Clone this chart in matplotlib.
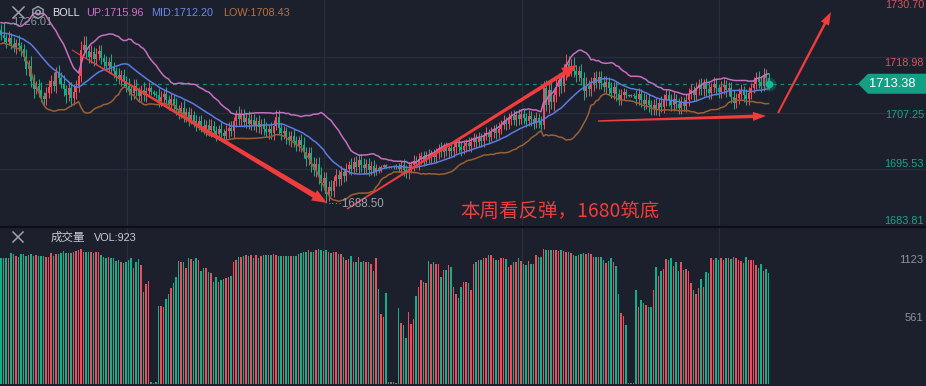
import matplotlib

matplotlib.use("Agg")  # no display
import matplotlib.pyplot as plt
from matplotlib.patches import Polygon
from matplotlib.lines import Line2D
import numpy as np
import pandas as pd

plt.rcParams["font.family"] = ["Liberation Sans", "Noto Sans CJK SC"]

# closes before the visible window, only used to warm up the 20-bar BOLL
warmup_closes = [1722.0, 1723.5, 1724.8, 1725.5, 1724.2, 1725.0, 1726.0, 1724.6, 1723.0, 1724.4,
                 1722.8, 1721.9, 1723.2, 1724.5, 1725.2, 1723.8, 1722.6, 1723.9, 1724.7]

closes = [
    1723.6, 1722.9, 1722.1, 1723.0, 1721.8, 1721.0, 1722.0, 1721.2, 1720.6, 1719.0,
    1716.5, 1717.2, 1714.0, 1712.2, 1713.0, 1712.0, 1710.8, 1710.2, 1711.5, 1712.8,
    1714.0, 1713.0, 1715.8, 1714.6, 1713.4, 1712.2, 1711.0, 1712.4, 1710.3, 1711.6,
    1713.0, 1715.0, 1720.5, 1721.6, 1720.2, 1719.0, 1720.0, 1718.6, 1719.6, 1720.2,
    1718.8, 1717.9, 1717.0, 1718.0, 1716.8, 1716.0, 1715.2, 1714.4, 1715.2, 1713.8,
    1713.0, 1712.2, 1711.4, 1713.0, 1711.8, 1710.9, 1712.0, 1711.0, 1711.8, 1712.4,
    1711.6, 1711.3, 1711.0, 1709.8, 1710.6, 1711.2, 1710.0, 1709.2, 1710.1, 1708.9,
    1708.0, 1707.3, 1708.2, 1706.6, 1707.4, 1706.0, 1706.8, 1705.6, 1704.8, 1705.6,
    1704.5, 1703.9, 1704.8, 1703.6, 1704.5, 1703.4, 1702.8, 1703.9, 1703.0, 1702.4,
    1703.4, 1704.2, 1703.5, 1705.5, 1707.0, 1706.0, 1706.8, 1705.4, 1706.2, 1705.0,
    1705.8, 1704.6, 1705.5, 1704.3, 1705.0, 1704.0, 1703.2, 1704.0, 1703.0, 1704.6,
    1706.5, 1704.2, 1703.0, 1703.4, 1702.2, 1701.5, 1702.4, 1701.3, 1700.6, 1701.5,
    1700.5, 1699.0, 1697.6, 1698.8, 1696.5, 1695.3, 1696.6, 1694.2, 1692.5, 1693.6,
    1690.2, 1691.8, 1691.0, 1693.0, 1694.2, 1693.4, 1694.8, 1694.0, 1695.6, 1696.4,
    1695.6, 1697.0, 1696.0, 1697.5, 1696.4, 1695.7, 1696.6, 1695.4, 1696.2, 1695.0,
    1695.8, 1695.2, 1696.0, 1696.3, 1696.0, 1695.9, 1696.0, 1695.9, 1696.0, 1695.6,
    1696.4, 1695.4, 1694.8, 1695.6, 1696.4, 1697.2, 1696.6, 1697.6, 1698.2, 1697.5,
    1698.4, 1697.8, 1698.6, 1698.0, 1699.0, 1699.8, 1699.0, 1699.9, 1699.2, 1700.0,
    1699.3, 1700.2, 1700.9, 1700.1, 1699.5, 1700.4, 1701.0, 1700.3, 1701.2, 1701.9,
    1701.2, 1702.0, 1701.4, 1702.4, 1703.0, 1702.3, 1703.2, 1703.9, 1703.1, 1704.0,
    1704.8, 1705.6, 1704.9, 1705.9, 1706.6, 1705.8, 1706.8, 1706.0, 1707.0, 1706.3,
    1705.6, 1706.6, 1705.9, 1705.2, 1706.2, 1705.5, 1704.8, 1712.5, 1709.0, 1712.0,
    1709.5, 1711.0, 1712.6, 1714.2, 1713.0, 1715.8, 1717.6, 1716.4, 1717.2, 1716.0,
    1715.2, 1716.0, 1714.6, 1711.8, 1713.0, 1712.2, 1713.4, 1714.6, 1713.6, 1714.8,
    1713.6, 1712.8, 1713.8, 1712.4, 1711.5, 1712.6, 1711.2, 1710.2, 1711.0, 1711.6,
    1711.0, 1710.9, 1711.0, 1710.9, 1710.2, 1711.2, 1710.0, 1709.2, 1710.0, 1708.9,
    1708.2, 1709.0, 1708.0, 1709.4, 1708.6, 1710.0, 1711.0, 1710.0, 1709.0, 1710.2,
    1709.2, 1708.4, 1709.6, 1708.8, 1710.0, 1711.2, 1712.0, 1711.0, 1712.4, 1713.2,
    1712.2, 1713.3, 1712.3, 1711.4, 1712.6, 1713.4, 1712.4, 1711.6, 1712.6, 1713.2,
    1712.0, 1712.5, 1710.6, 1709.4, 1710.4, 1711.2, 1712.0, 1711.0, 1710.2, 1711.4,
    1712.4, 1713.4, 1714.6, 1713.8, 1713.0, 1715.2, 1714.6, 1713.38,
]

# wick length above max(open, close) and below min(open, close)
wick_up = [
    1.1, 2.41, 0.9, 1.4, 1.0, 1.3, 0.8, 1.5, 0.9, 1.2,
    1.7, 1.2, 2.0, 1.4, 1.0, 1.3, 1.7, 0.9, 1.2, 1.4,
    1.3, 1.8, 1.0, 1.5, 1.2, 1.9, 0.9, 1.4, 1.3, 1.7,
    1.2, 1.4, 1.9, 1.7, 1.8, 1.3, 1.5, 1.0, 1.3, 1.2,
    1.4, 0.9, 1.3, 1.0, 1.7, 1.2, 0.9, 1.4, 1.0, 1.3,
    1.2, 1.5, 1.0, 1.3, 1.4, 0.9, 1.2, 1.7, 1.0, 1.3,
    0.5, 0.4, 0.6, 1.4, 1.2, 0.9, 1.5, 1.0, 1.3, 1.2,
    1.4, 0.9, 1.3, 1.7, 1.0, 1.2, 1.4, 0.9, 1.3, 1.0,
    1.2, 1.4, 0.9, 1.3, 1.5, 1.0, 1.2, 0.9, 1.4, 1.0,
    1.3, 1.2, 1.4, 1.0, 0.9, 1.7, 1.2, 1.3, 1.0, 1.4,
    1.2, 1.3, 0.9, 1.4, 1.0, 1.2, 1.3, 0.9, 1.4, 1.2,
    1.3, 1.4, 1.0, 1.2, 0.9, 1.3, 1.0, 1.4, 1.2, 0.9,
    1.3, 1.7, 1.2, 1.4, 1.3, 1.5, 1.2, 1.4, 1.7, 1.3,
    1.2, 1.3, 1.5, 1.0, 1.4, 1.2, 1.3, 1.0, 1.2, 0.9,
    1.4, 1.0, 1.3, 0.9, 1.2, 1.4, 1.0, 1.3, 0.9, 1.2,
    0.7, 0.4, 0.3, 0.2, 0.2, 0.2, 0.2, 0.3, 0.5, 0.7,
    0.9, 1.2, 1.0, 1.3, 0.9, 1.2, 1.0, 1.3, 0.9, 1.2,
    1.0, 1.3, 0.9, 1.2, 1.0, 0.9, 1.3, 1.0, 1.2, 0.9,
    1.2, 1.0, 0.9, 1.3, 1.0, 1.2, 0.9, 1.3, 1.0, 1.2,
    0.9, 1.2, 1.0, 0.9, 1.3, 1.0, 1.2, 0.9, 1.0, 1.3,
    1.0, 1.2, 0.9, 1.3, 1.0, 1.2, 0.9, 1.3, 1.0, 1.2,
    0.9, 1.2, 1.0, 0.9, 1.3, 1.0, 1.2, 1.4, 1.7, 2.0,
    1.7, 1.4, 1.8, 1.5, 1.4, 1.7, 2.0, 1.5, 1.3, 1.7,
    1.4, 1.2, 1.5, 1.3, 1.7, 1.2, 1.4, 1.3, 1.5, 1.2,
    1.3, 1.4, 1.2, 1.0, 1.3, 1.2, 1.4, 1.0, 1.2, 0.9,
    0.7, 0.3, 0.2, 0.4, 1.2, 1.3, 1.0, 1.4, 1.2, 1.3,
    1.0, 1.2, 1.3, 1.0, 1.4, 1.2, 1.3, 1.0, 1.2, 1.4,
    1.0, 1.3, 1.2, 1.0, 1.3, 1.2, 1.4, 1.0, 1.3, 1.2,
    1.3, 1.0, 1.2, 1.4, 1.0, 1.3, 1.2, 1.0, 1.3, 1.2,
    1.0, 1.3, 1.2, 1.4, 1.0, 1.2, 1.3, 1.0, 1.2, 1.3,
    1.2, 1.4, 1.3, 1.5, 1.2, 1.4, 1.3, 1.0,
]
wick_dn = [
    1.0, 0.9, 1.3, 0.7, 1.2, 0.9, 1.3, 1.0, 1.4, 0.9,
    1.3, 1.5, 1.2, 1.7, 1.0, 1.4, 1.2, 1.5, 1.3, 1.0,
    1.4, 1.2, 1.5, 1.3, 1.0, 1.4, 1.7, 1.2, 1.5, 1.3,
    1.4, 1.3, 1.2, 1.0, 1.4, 1.3, 1.2, 1.4, 1.0, 1.3,
    1.2, 1.4, 1.0, 1.3, 1.2, 1.4, 1.3, 1.0, 1.5, 1.2,
    1.4, 1.2, 1.5, 1.3, 1.0, 1.4, 1.2, 1.3, 1.4, 1.0,
    0.6, 0.4, 0.5, 1.3, 1.0, 1.4, 1.2, 1.3, 1.0, 1.4,
    1.2, 1.4, 1.0, 1.3, 1.2, 1.5, 1.0, 1.3, 1.4, 1.2,
    1.3, 1.0, 1.4, 1.2, 1.3, 1.0, 1.4, 1.2, 1.3, 1.5,
    1.2, 1.3, 1.0, 1.4, 1.2, 1.3, 1.4, 1.0, 1.3, 1.2,
    1.4, 1.0, 1.3, 1.2, 1.4, 1.3, 1.0, 1.4, 1.2, 1.3,
    1.0, 1.4, 1.3, 1.2, 1.4, 1.0, 1.3, 1.2, 1.4, 1.3,
    1.4, 1.2, 1.5, 1.3, 1.7, 1.2, 1.4, 1.8, 1.5, 1.3,
    1.7, 1.4, 1.2, 1.3, 1.0, 1.4, 1.2, 1.3, 1.0, 1.2,
    1.3, 1.2, 1.0, 1.3, 1.4, 1.2, 1.3, 1.4, 1.2, 1.0,
    0.8, 0.5, 0.3, 0.2, 0.2, 0.2, 0.2, 0.3, 0.4, 0.7,
    1.0, 1.3, 1.2, 1.4, 1.0, 1.2, 0.9, 1.2, 1.0, 1.3,
    1.2, 1.0, 1.3, 1.0, 1.2, 1.3, 1.0, 1.2, 0.9, 1.3,
    1.0, 1.2, 1.3, 1.0, 1.2, 0.9, 1.3, 1.0, 1.2, 1.0,
    1.2, 1.0, 1.3, 1.2, 0.9, 1.3, 1.0, 1.2, 1.3, 1.0,
    1.2, 1.0, 1.3, 0.9, 1.2, 1.0, 1.3, 1.2, 1.0, 1.3,
    1.2, 1.0, 1.3, 1.2, 1.0, 1.3, 1.2, 0.9, 1.4, 1.7,
    1.5, 1.8, 1.4, 1.7, 1.5, 1.3, 1.7, 1.4, 1.5, 1.3,
    1.5, 1.3, 1.4, 1.8, 1.2, 1.4, 1.3, 1.5, 1.2, 1.4,
    1.4, 1.2, 1.3, 1.4, 1.2, 1.3, 1.5, 1.2, 1.3, 1.0,
    0.7, 0.3, 0.2, 0.4, 1.3, 1.2, 1.4, 1.3, 1.2, 1.4,
    1.3, 1.4, 1.2, 1.3, 1.2, 1.4, 1.3, 1.2, 1.4, 1.3,
    1.2, 1.4, 1.3, 1.2, 1.4, 1.3, 1.0, 1.3, 1.2, 1.4,
    1.2, 1.3, 1.4, 1.2, 1.3, 1.0, 1.4, 1.3, 1.2, 1.3,
    1.4, 1.2, 1.3, 1.4, 1.2, 1.3, 1.0, 1.4, 1.2, 1.3,
    1.3, 1.0, 1.2, 1.3, 1.4, 1.2, 1.3, 1.2,
]

volumes = [
    1212, 1212, 1212, 1219, 1261, 1251, 1238, 1228, 1251, 1251,
    1238, 1244, 1251, 1238, 1244, 1238, 1232, 1238, 1225, 1225,
    1261, 1238, 1257, 1251, 1261, 1283, 1261, 1261, 1261, 1270,
    1283, 1296, 1302, 1277, 1277, 1277, 1277, 1261, 1277, 1270,
    1244, 1222, 1212, 1225, 1212, 1212, 1187, 1199, 1174, 1167,
    1174, 1196, 1212, 1122, 1174, 1206, 1148, 891, 961, 994,
    16, 8, 16, 752, 752, 746, 820, 868, 923, 971,
    1035, 1187, 1180, 1174, 1116, 1212, 1206, 1187, 1212, 1196,
    1090, 1122, 1122, 1077, 1068, 987, 1035, 981, 1003, 1013,
    1026, 1035, 1045, 1180, 1196, 1222, 1228, 1238, 1244, 1238,
    1244, 1212, 1244, 1212, 1238, 1244, 1244, 1244, 1244, 1251,
    1244, 1238, 1232, 1238, 1238, 1232, 1232, 1238, 1238, 1251,
    1264, 1270, 1277, 1290, 1277, 1270, 1293, 1302, 1293, 1283,
    1290, 1270, 1264, 1277, 1270, 1257, 1251, 1225, 1199, 1206,
    1232, 1174, 1174, 1225, 1180, 1187, 1174, 1180, 1154, 1090,
    1219, 916, 672, 646, 878, 16, 22, 16, 8, 736,
    585, 569, 447, 691, 582, 627, 852, 936, 1000, 987,
    974, 1187, 1154, 1180, 1154, 1154, 1035, 1096, 1103, 1148,
    1132, 939, 865, 833, 939, 987, 981, 971, 907, 1161,
    1180, 1199, 1199, 1212, 1212, 1244, 1244, 1212, 1199, 1199,
    1212, 1212, 1206, 1129, 1148, 1180, 1180, 1219, 1187, 1161,
    1148, 1187, 1154, 1154, 1244, 1225, 1225, 1302, 1290, 1290,
    1290, 1290, 1296, 1283, 1290, 1283, 1277, 1277, 1264, 1244,
    1232, 1244, 1257, 1264, 1257, 1264, 1251, 1225, 1225, 1225,
    1225, 1199, 1167, 1187, 1212, 1180, 1135, 865, 685, 659,
    569, 9, 5, 9, 907, 746, 810, 778, 762, 746,
    746, 907, 1129, 1045, 1090, 1109, 1206, 1193, 1212, 1142,
    1174, 1090, 1180, 1100, 1109, 1090, 974, 907, 868, 929,
    1013, 936, 1077, 1071, 1212, 1193, 1219, 1199, 1212, 1199,
    1219, 1219, 1206, 1225, 1212, 1199, 1187, 1167, 1225, 1193,
    1199, 1193, 1148, 1122, 1154, 1090, 1109, 1071,
]

price_ticks = [1730.70, 1718.98, 1707.25, 1695.53, 1683.81]
vol_ticks = [561, 1123]
boll_labels = ["UP:1715.96", "MID:1712.20", "LOW:1708.43"]
vol_label = "VOL:923"
hi_label = "1726.01"
lo_label = "1688.50"
note = "本周看反弹，1680筑底"
last_price = 1713.38

# hand-drawn arrows: (start candle, start price) -> (end candle, end price)
arrows = [
    ((28.4, 1720.45), (130.4, 1688.41), 1.0, 5.5, 12, 15),
    ((138.4, 1687.15), (230.4, 1717.30), 1.5, 4.0, 12, 15),
    ((238.8, 1705.58), (306.0, 1706.63), 1.5, 3.5, 9, 13),
    ((310.8, 1707.25), (332.0, 1728.40), 2.0, 2.5, 9, 13),
]

BG = "#1b202c"
GRID = "#282e3b"
RED = "#ec4c5c"
GREEN = "#14ae88"
TEAL = "#14a486"
ARROW_RED = "#f03c3c"
W, H = 926, 386

# ---- derived series
c = np.array(closes)
o = np.r_[warmup_closes[-1], c[:-1]]
hi = np.maximum(o, c) + np.array(wick_up)
lo = np.minimum(o, c) - np.array(wick_dn)
rising = c >= o
cols = np.where(rising, RED, GREEN)
x = np.arange(len(c))

s = pd.Series(warmup_closes + closes)
n_warm = len(warmup_closes)
mid = s.rolling(20).mean().to_numpy()[n_warm:]
sd = s.rolling(20).std(ddof=0).to_numpy()[n_warm:]
upper = mid + 2 * sd
lower = mid - 2 * sd

fig = plt.figure(figsize=(W / 100, H / 100), dpi=100, facecolor=BG)
ax = fig.add_axes([0, 160 / H, 1, 226 / H])
axv = fig.add_axes([0, 2 / H, 1, 156 / H])
for a in (ax, axv):
    a.set_facecolor(BG)
    a.set_xlim(-0.4, 370)
    a.set_xticks([])
    a.set_yticks([])
    for sp in a.spines.values():
        sp.set_visible(False)
    for g in (50.2, 129.2, 208.2, 287.2):
        a.axvline(g, color=GRID, lw=0.9, zorder=0)
ax.set_ylim(1683.59, 1730.92)
axv.set_ylim(0, 1505)

for p in price_ticks[1:4]:
    ax.axhline(p, color=GRID, lw=0.9, zorder=0)

# ---- candles
ax.vlines(x, lo, hi, colors=cols, lw=0.75, zorder=3)
ax.bar(x, np.maximum(np.abs(c - o), 0.08), bottom=np.minimum(o, c), width=0.5,
       color=cols, lw=0, zorder=3)

ax.plot(x, upper, color="#c66fc0", lw=1.1, zorder=4)
ax.plot(x, mid, color="#5b7be2", lw=1.1, zorder=4)
ax.plot(x, lower, color="#9a6036", lw=1.1, zorder=4)

# current price line, dot and tag
ax.axhline(last_price, xmax=858 / W, color=TEAL, lw=0.9, ls=(0, (3, 3)), alpha=0.8, zorder=2)
ax.scatter([x[-1]], [last_price], s=95, color=TEAL, alpha=0.3, lw=0, zorder=7)
ax.scatter([x[-1]], [last_price], s=30, color="#19b892", lw=0, zorder=7)

yc = ax.transData.transform((0, last_price))[1]
tag = np.array([[858, yc], [868, yc + 10], [926, yc + 10], [926, yc - 10], [868, yc - 10]])
fig.add_artist(Polygon(tag / [W, H], closed=True, transform=fig.transFigure,
                       fc="#12a084", ec="none", zorder=9))
fig.text(892 / W, yc / H, f"{last_price:.2f}", color="white", fontsize=9.3,
         ha="center", va="center", zorder=10)

# price axis labels
label_cols = ["#d2555e", "#d2555e", "#1fa387", "#1fa387", "#1fa387"]
label_dy = [-2.9, -4.1, -1.2, 3.6, 2.9]
for p, col, dy in zip(price_ticks, label_cols, label_dy):
    ax.annotate(f"{p:.2f}", xy=(1, p), xycoords=("axes fraction", "data"),
                xytext=(-1.5, dy), textcoords="offset points",
                ha="right", va="center", color=col, fontsize=7.8, zorder=9)

for v in vol_ticks:
    axv.annotate(str(v), xy=(1, v), xycoords=("axes fraction", "data"),
                 xytext=(-2.2, 5.5), textcoords="offset points",
                 ha="right", va="center", color="#8d929a", fontsize=8)

# high / low markers
i_hi = int(np.argmax(hi))
i_lo = int(np.argmin(lo))
ax.annotate(hi_label, xy=(i_hi, hi[i_hi]), xytext=(6, 1), textcoords="offset points",
            ha="left", va="center", color="#8f949c", fontsize=8, zorder=9)
ax.annotate("····" + lo_label, xy=(i_lo, lo[i_lo]), xytext=(1.2, -1), textcoords="offset points",
            ha="left", va="center", color="#9ca1a9", fontsize=8.3, zorder=9)

# volume
axv.bar(x, volumes, width=0.5, color=cols, lw=0)


def red_arrow(ax, start, end, w0, w1, head_w, head_l):
    a = ax.transData.transform(start)
    b = ax.transData.transform(end)
    d = b - a
    u = d / np.hypot(*d)
    nrm = np.array([-u[1], u[0]])
    neck = b - u * head_l
    pts = np.array([a + nrm * w0 / 2, neck + nrm * w1 / 2, neck + nrm * head_w / 2, b,
                    neck - nrm * head_w / 2, neck - nrm * w1 / 2, a - nrm * w0 / 2])
    ax.add_patch(Polygon(ax.transData.inverted().transform(pts), closed=True,
                         fc=ARROW_RED, ec="none", zorder=8, clip_on=False))


for start, end, w0, w1, hw, hl in arrows:
    red_arrow(ax, start, end, w0, w1, hw, hl)

ax.text(183.6, 1686.7, note, color=ARROW_RED, fontsize=14, ha="left", va="center",
        family=["Noto Sans CJK SC"], zorder=9)

# ---- header overlays (pixel positions)
def fx(px):
    return px / W


def fy(py):
    return 1 - py / H


def cross(x0, y0, size, col):
    for ys in ((y0, y0 + size), (y0 + size, y0)):
        fig.add_artist(Line2D([fx(x0), fx(x0 + size)], [fy(ys[0]), fy(ys[1])],
                              transform=fig.transFigure, color=col, lw=1.1))


cross(13, 7, 11, "#9ea3aa")
ang = np.deg2rad(np.arange(6) * 60 + 30)
hexa = np.c_[38 + 6 * np.cos(ang), 12.5 + 6 * np.sin(ang)]
fig.add_artist(Polygon(np.c_[fx(hexa[:, 0]), fy(hexa[:, 1])], closed=True,
                       transform=fig.transFigure, fc="none", ec="#9ea3aa", lw=1.0))
ring = np.linspace(0, 2 * np.pi, 30)
fig.add_artist(Line2D(fx(38 + 2.3 * np.cos(ring)), fy(12.5 + 2.3 * np.sin(ring)),
                      transform=fig.transFigure, color="#9ea3aa", lw=1.0))

fig.text(fx(52), fy(13), "BOLL", color="#e4e6ea", fontsize=7.8, va="center")
for xp, txt, col in zip((86, 151, 223), boll_labels, ("#d072c8", "#6b88ea", "#b8703e")):
    fig.text(fx(xp), fy(13), txt, color=col, fontsize=7.8, va="center")

fig.add_artist(Line2D([0, 1], [fy(226.5), fy(226.5)], transform=fig.transFigure,
                      color="#0c0f15", lw=1.6))
cross(13, 232, 10, "#9ea3aa")
fig.text(fx(51), fy(238), "成交量", color="#c9ccd2", fontsize=8.3, va="center")
fig.text(fx(94), fy(238), vol_label, color="#c9ccd2", fontsize=7.8, va="center")

fig.savefig("out.png", dpi=100, facecolor=BG)
plt.close(fig)
